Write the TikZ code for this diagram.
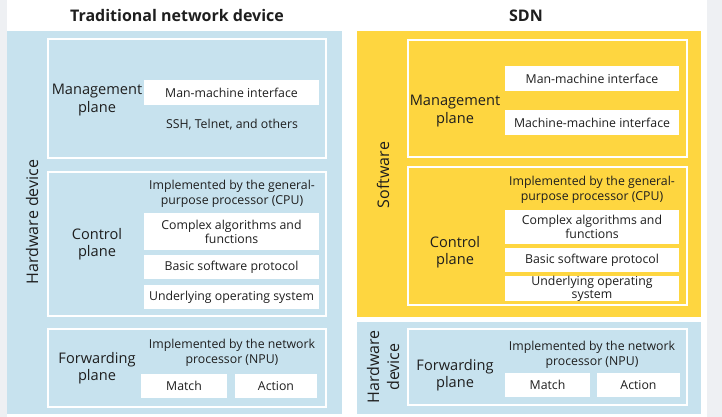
\documentclass[tikz,border=0pt]{standalone}
\usepackage{fontspec}
\setmainfont{Open Sans}
\definecolor{hwblue}{RGB}{199,226,238}
\definecolor{swyellow}{RGB}{254,214,64}
\definecolor{edgegray}{RGB}{238,240,243}
\definecolor{ink}{RGB}{30,30,30}
\tikzset{wbox/.style = {fill=white, inner sep=0, align=center, text=ink,
    font=\fontsize{12.3}{14}\selectfont}}
\tikzset{txt/.style = {align=center, text=ink, font=\fontsize{12.3}{14.5}\selectfont}}
\tikzset{plane/.style = {align=center, text=ink, font=\fontsize{14.6}{17.5}\selectfont}}
\tikzset{side/.style = {align=center, text=ink, rotate=90, font=\fontsize{16}{20}\selectfont}}
\tikzset{frame/.style = {draw=white, line width=1.6}}
\tikzset{title/.style = {text=ink, font=\bfseries\fontsize{16}{19}\selectfont}}

\begin{document}
\begin{tikzpicture}[x=1pt, y=-1pt]
    \useasboundingbox (0,0) rectangle (722,417);
    \fill[edgegray] (0,0) rectangle (7,417);
    \fill[edgegray] (707,0) rectangle (722,417);

    % traditional network device
    \node[title] (ttitle) at (177,16) {Traditional network device};
    \fill[hwblue] (7,31) rectangle (342,414);
    \node[side] (thw) at (32,222) {Hardware device};

    \draw[frame] (48,39) rectangle (326,158);
    \node[plane] (tmgmt) at (97,100) {Management\\plane};
    \node[wbox, minimum width=175, minimum height=25] (tmmi) at (231.5,92.5) {Man-machine interface};
    \node[txt] (tssh) at (232,125) {SSH, Telnet, and others};

    \draw[frame] (48,172) rectangle (326,316);
    \node[plane] (tctrl) at (97,244) {Control\\plane};
    \node[txt] (tcpu) at (232,194) {Implemented by the general-\\purpose processor (CPU)};
    \node[wbox, minimum width=175, minimum height=37] (talg) at (231.5,231.5) {Complex algorithms and\\functions};
    \node[wbox, minimum width=175, minimum height=24] (tproto) at (231.5,267) {Basic software protocol};
    \node[wbox, minimum width=175, minimum height=24] (tos) at (231.5,297) {Underlying operating system};

    \draw[frame] (48,329) rectangle (326,407);
    \node[plane] (tfwd) at (97,368) {Forwarding\\plane};
    \node[txt] (tnpu) at (232,353) {Implemented by the network\\processor (NPU)};
    \node[wbox, minimum width=86, minimum height=24] (tmatch) at (184,386) {Match};
    \node[wbox, minimum width=82, minimum height=24] (taction) at (276,386) {Action};

    % SDN
    \node[title] (stitle) at (526,16) {SDN};
    \fill[swyellow] (357,31) rectangle (701,317);
    \node[side] (ssw) at (383,175) {Software};

    \draw[frame] (408,40) rectangle (687,157);
    \node[plane] (smgmt) at (455,111) {Management\\plane};
    \node[wbox, minimum width=174, minimum height=25] (smmi) at (592,78.5) {Man-machine interface};
    \node[wbox, minimum width=174, minimum height=25] (smm) at (592,122.5) {Machine-machine interface};

    \draw[frame] (408,167) rectangle (687,305);
    \node[plane] (sctrl) at (455,252) {Control\\plane};
    \node[txt] (scpu) at (592,190) {Implemented by the general-\\purpose processor (CPU)};
    \node[wbox, minimum width=174, minimum height=34] (salg) at (592,227) {Complex algorithms and\\functions};
    \node[wbox, minimum width=174, minimum height=24] (sproto) at (592,260) {Basic software protocol};
    \node[wbox, minimum width=174, minimum height=25, font=\fontsize{12.3}{13}\selectfont] (sos) at (592,288.5) {Underlying operating\\system};

    \fill[hwblue] (357,322) rectangle (701,414);
    \node[side] (shw) at (383,367) {Hardware\\device};
    \draw[frame] (408,329) rectangle (687,405);
    \node[plane] (sfwd) at (455,375) {Forwarding\\plane};
    \node[txt] (snpu) at (592,355) {Implemented by the network\\processor (NPU)};
    \node[wbox, minimum width=85, minimum height=24] (smatch) at (547.5,385) {Match};
    \node[wbox, minimum width=83, minimum height=24] (saction) at (638.5,385) {Action};
\end{tikzpicture}
\end{document}
